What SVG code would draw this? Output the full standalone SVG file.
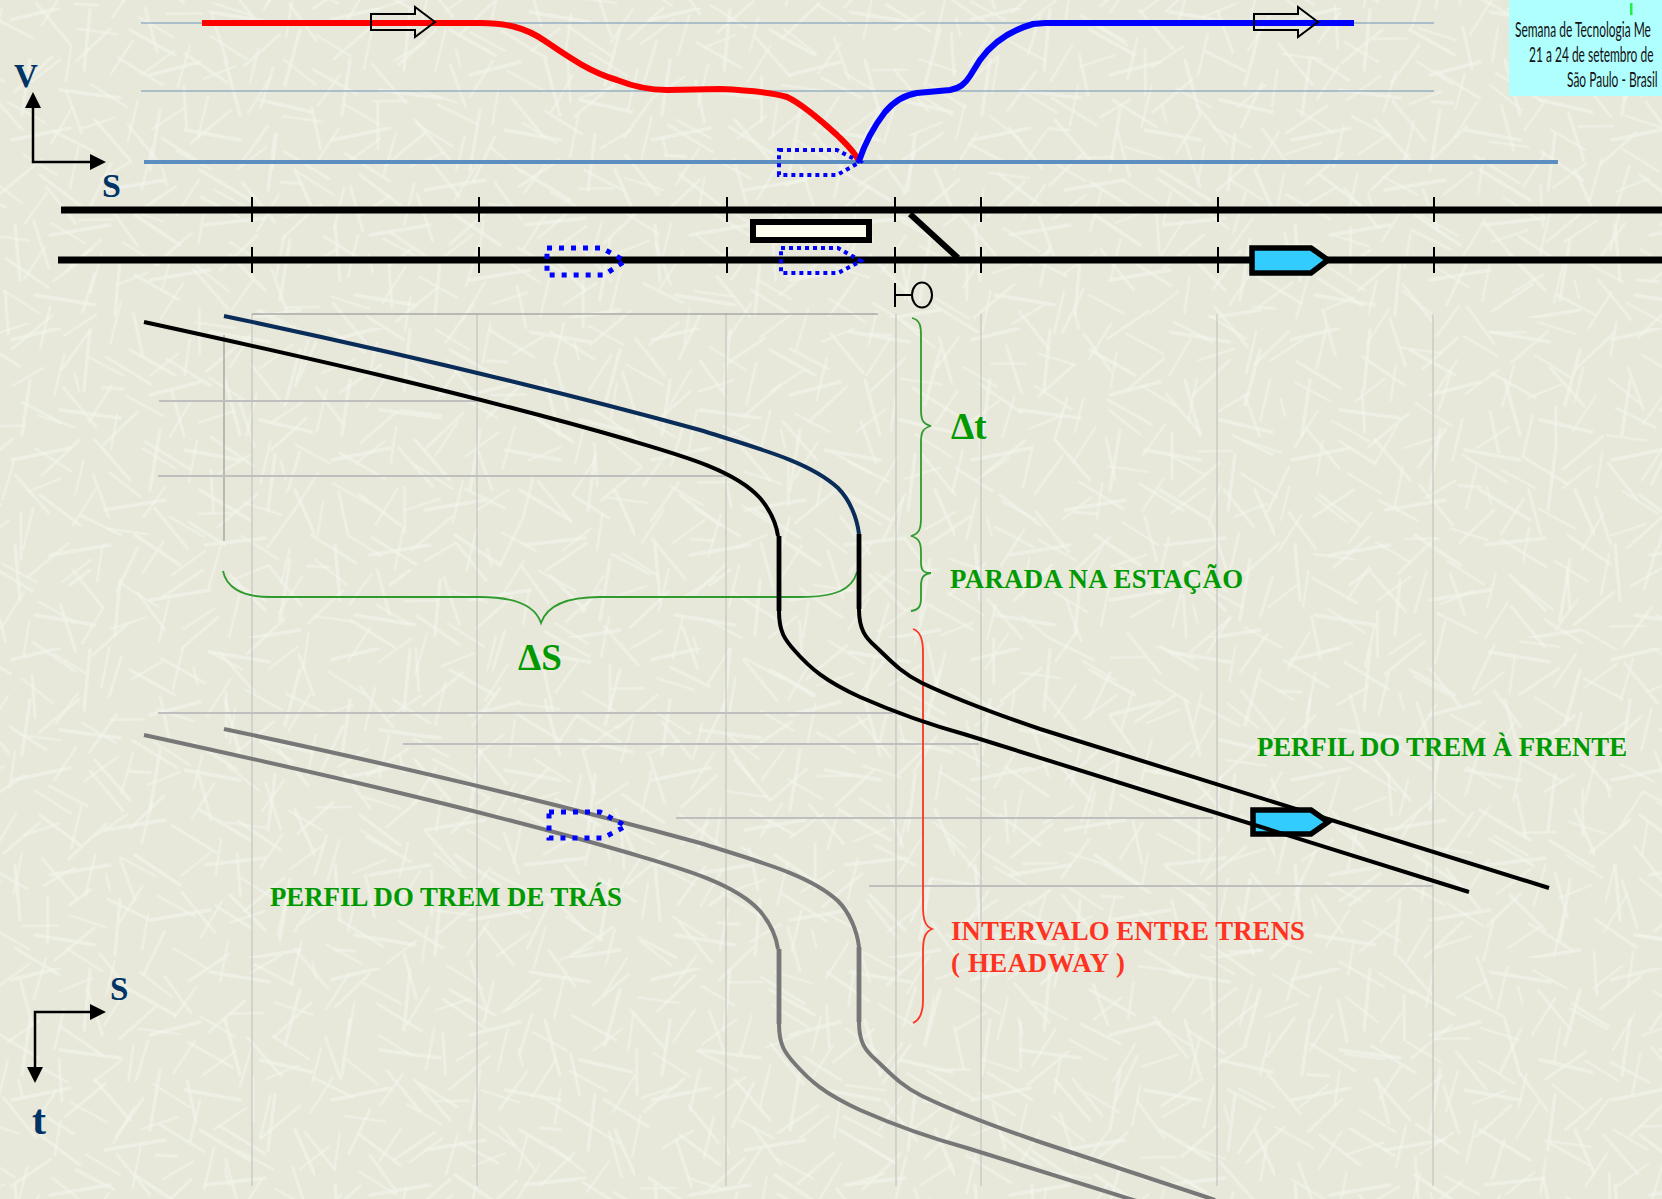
<svg xmlns="http://www.w3.org/2000/svg" width="1662" height="1199" viewBox="0 0 1662 1199">
<style>
.bg{stroke:#f4f5ec;stroke-width:3.4;stroke-linecap:round;opacity:.6;fill:none}
.guide{stroke:#bdbdbd;stroke-width:1;fill:none}
.guideh{stroke:#bfbfc0;stroke-width:2;fill:none}
.track{stroke:#000;stroke-width:7;fill:none}
.tick{stroke:#000;stroke-width:2;fill:none}
.sky{stroke:#6f93b8;stroke-width:1;fill:none}
.c{fill:none;stroke-width:4}
.v{fill:none;stroke-width:4.8}
.dots{stroke:#0000ff;stroke-width:4;stroke-dasharray:4 4;fill:none}
.dotsb{stroke:#0000ff;stroke-width:5;stroke-dasharray:5 7;fill:none}
.train{fill:#33ccff;stroke:#000;stroke-width:5.5}
.brace{fill:none;stroke:#2f9b2f;stroke-width:1.8}
.t{font-family:"Liberation Serif",serif;font-weight:bold}
.g{fill:#009900;font-size:26.8px}
.r{fill:#ff3322;font-size:26.8px}
.n{fill:#003366}
.hdr{font-family:"Lato","Liberation Sans",sans-serif;font-size:21px;fill:#111}
.arrow{fill:none;stroke:#000;stroke-width:2}
</style>
<defs>
<filter id="soft" x="0" y="0" width="100%" height="100%"><feGaussianBlur stdDeviation="0.7"/></filter>
<pattern id="tex" width="320" height="320" patternUnits="userSpaceOnUse">
<path class="bg" filter="url(#soft)" d="M10 20L60 8M90 10L84 70M130 30L175 55M210 12L270 22M300 30L285 85M30 60L22 115M60 90L120 98M150 75L200 62M225 60L240 115M260 100L312 112M12 140L70 128M95 120L130 160M160 110L150 170M185 130L240 140M275 135L268 190M40 175L80 205M105 190L165 180M200 170L250 200M295 170L315 215M15 225L20 280M50 235L110 225M135 215L180 245M205 225L265 218M290 240L280 300M35 295L95 305M120 260L115 315M150 280L210 270M230 255L265 290M300 310L250 318M70 265L90 250"/>
</pattern>
<pattern id="tex2" href="#tex" patternTransform="rotate(41) scale(.85)"/>
<pattern id="tex3" href="#tex" patternTransform="rotate(-67) translate(70 40) scale(.7)"/>
<path id="p-navy" d="M224 316C380 349 540 386 700 430C760 449 810 462 838 488C850 500 857 518 859 534"/>
<path id="p-a" d="M144 322C300 356 470 394 629 440C680 455 735 470 760 498C770 510 776 522 778 536"/>
<path id="p-va" d="M779 536V611"/>
<path id="p-vb" d="M859 534V609"/>
<path id="p-b" d="M859 609C859 630 866 638 875 646C890 660 900 672 922 683C945 694 990 712 1040 729L1549 888"/>
<path id="p-d" d="M779 611C779 632 785 640 795 651C810 668 825 681 860 697C885 708 920 722 967 735L1469 892"/>
</defs>
<rect id="background" width="1662" height="1199" fill="#e7e8da"/>
<rect width="1662" height="1199" fill="url(#tex)"/>
<rect width="1662" height="1199" fill="url(#tex2)"/>
<rect width="1662" height="1199" fill="url(#tex3)"/>

<g id="header">
<rect x="1509" y="0" width="153" height="96" fill="#b0ffff"/>
<rect x="1630" y="3" width="2.5" height="12" fill="#22ee44"/>
<text class="hdr" transform="translate(1515 37) scale(.57 1)">Semana de Tecnologia Me</text>
<text class="hdr" transform="translate(1529 62) scale(.57 1)">21 a 24 de setembro de</text>
<text class="hdr" transform="translate(1567 87) scale(.57 1)">São Paulo - Brasil</text>
</g>

<g id="guides">
<path class="sky" d="M141 23H1434M141 91H1434"/>
<path d="M144 162H1558" stroke="#5c8ebf" stroke-width="4" fill="none"/>
<path class="guide" d="M252 314V1186M477 314V1186M726 314V1186M896 314V1186M981 314V1186M1217 314V1186M1433 314V1186"/>
<path d="M224 335V541" stroke="#999" stroke-width="1.2" fill="none"/>
<path d="M252 314H878" stroke="#8a8a8a" stroke-width="1.2" fill="none"/>
<path class="guideh" d="M159 401H477M158 476H726M158 713H893M403 744H979M676 818H1213M869 886H1433"/>
</g>

<g id="brace-dt">
<path class="brace" d="M912 318C920 320 921 326 921 335V410C921 420 923 424 931 426C923 428 921 432 921 442V518C921 529 919 534 911 536C919 538 921 543 921 552V562C921 570 923 573 931 573C923 574 921 578 921 586V598C921 606 919 610 911 611"/>
</g>
<g id="brace-ds">
<path class="brace" d="M223 571C226 586 240 597 270 597H480C515 597 535 605 541 623C547 605 567 597 600 597H800C835 597 852 590 857 572"/>
</g>
<g id="brace-headway">
<path d="M913 629C920 631 923 638 923 652V905C923 920 925 926 932 929C925 932 923 938 923 952V1000C923 1012 920 1020 913 1023" fill="none" stroke="#ff3322" stroke-width="1.8"/>
</g>

<g id="connectors">
<path id="velocity-red" d="M202 23H480C505 23 525 27 545 41C570 58 590 72 617 80C632 86 650 90 667 90L720 89C745 90 770 92 787 97C800 103 815 115 837 135C845 143 855 152 858 160" fill="none" stroke="#ff0000" stroke-width="6"/>
<path id="velocity-blue" d="M859 161C866 140 875 125 885 112C895 100 905 95 917 93L950 90C960 88 965 84 970 76L980 60C990 46 1005 32 1033 24L1045 23H1354" fill="none" stroke="#0000ff" stroke-width="6"/>
<path id="track-lines" class="track" d="M61 210H1662M58 260H1662"/>
<path id="track-ticks" class="tick" d="M252 197V222M479 197V222M727 197V222M895 197V222M981 197V222M1218 197V222M1434 197V222M252 247V273M479 247V273M727 247V273M895 247V273M981 247V273M1218 247V273M1434 247V273"/>
<path id="switch" d="M910 214L958 258" stroke="#000" stroke-width="6" fill="none"/>

<g id="rear-train-profile" stroke="#777777">
<g transform="translate(0 413)"><use href="#p-navy" class="c"/><use href="#p-a" class="c"/><use href="#p-va" class="v"/><use href="#p-vb" class="v"/><use href="#p-d" class="c"/></g>
<path class="c" d="M859 1022C859 1043 866 1051 875 1059C890 1073 900 1085 922 1096C945 1107 990 1125 1040 1142L1215 1200"/>
</g>
<g id="front-train-profile" stroke="#000">
<use href="#p-navy" class="c" stroke="#0a2c58"/><use href="#p-a" class="c"/><use href="#p-va" class="v"/><use href="#p-vb" class="v"/><use href="#p-b" class="c"/>
</g>

<path id="arrow-red" class="arrow" d="M371 14H415V7L435 22L415 37V30H371Z"/>
<path id="arrow-blue" class="arrow" d="M1254 14H1298V7L1318 22L1298 37V30H1254Z"/>
</g>

<g id="station"><rect x="753" y="222" width="116" height="18" fill="#fffff0" stroke="#000" stroke-width="6"/></g>
<g id="signal"><path d="M895 283V307M895 295H912" stroke="#000" stroke-width="2" fill="none"/><ellipse cx="922" cy="295" rx="10" ry="12.5" fill="none" stroke="#000" stroke-width="2"/></g>

<g id="train-top-ghost"><path class="dots" d="M779 150H837L860 162L837 175H779Z"/></g>
<g id="train-station-ghost"><path class="dots" d="M781 248H838L861 261L838 273H781Z"/></g>
<g id="train-left-ghost"><path class="dotsb" d="M547 248H602L625 261L604 275H547Z"/></g>
<g id="train-rear-ghost"><path class="dotsb" d="M549 812H600L626 826L603 838H549Z"/></g>
<g id="train-track"><path class="train" d="M1252 248H1311L1328 260L1311 273H1252Z"/></g>
<g id="train-profile"><path class="train" d="M1253 810H1311L1328 822L1311 834H1253Z"/></g>
<use id="front-lower-curve" href="#p-d" class="c" stroke="#000"/>

<g id="axes-top">
<path d="M33 107V162H90" fill="none" stroke="#000" stroke-width="2.5"/>
<path d="M33 92L41 108H25ZM106 162L90 154V170Z" fill="#000"/>
<text class="t n" x="14" y="87" font-size="33">V</text>
<text class="t n" x="102" y="197" font-size="34">S</text>
</g>
<g id="axes-bottom">
<path d="M35 1075V1012H92" fill="none" stroke="#000" stroke-width="2.5"/>
<path d="M35 1083L27 1067H43ZM106 1012L90 1004V1020Z" fill="#000"/>
<text class="t n" x="110" y="1000" font-size="33">S</text>
<text class="t n" x="32" y="1134" font-size="42">t</text>
</g>

<g id="labels">
<text class="t" x="951" y="439" font-size="37" fill="#009900">Δt</text>
<text class="t g" x="950" y="588" textLength="293" lengthAdjust="spacing">PARADA NA ESTAÇÃO</text>
<text class="t" x="518" y="670" font-size="37" fill="#009900">ΔS</text>
<text class="t r" x="951" y="940" textLength="354" lengthAdjust="spacing">INTERVALO ENTRE TRENS</text>
<text class="t r" x="951" y="972" textLength="174" lengthAdjust="spacing">( HEADWAY )</text>
<text class="t g" x="1257" y="756" textLength="370" lengthAdjust="spacing">PERFIL DO TREM À FRENTE</text>
<text class="t g" x="270" y="906" textLength="352" lengthAdjust="spacing">PERFIL DO TREM DE TRÁS</text>
</g>
</svg>
